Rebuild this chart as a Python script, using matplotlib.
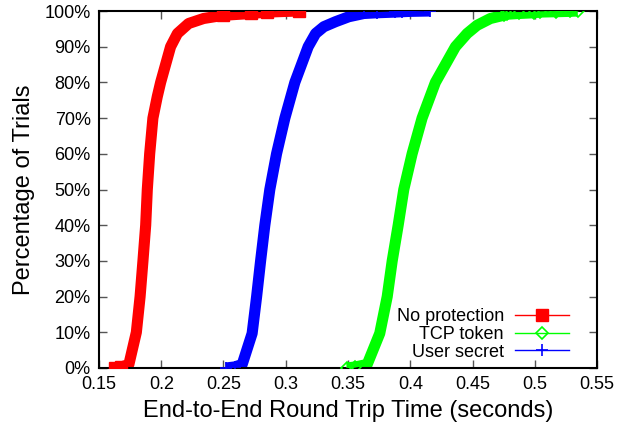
import numpy as np
import matplotlib
matplotlib.use("Agg")
import matplotlib.pyplot as plt
from matplotlib.lines import Line2D
from matplotlib.ticker import FuncFormatter

plt.rcParams['font.family'] = ['Liberation Sans', 'DejaVu Sans']

# percentiles (percentage of trials)
pct_np = [0, 0.3, 1, 10, 20, 30, 40, 50, 60, 70, 76, 80, 90, 93.7, 96.5, 97.9, 98.8, 99.3, 99.7, 100]
rtt_np = [0.163, 0.168, 0.174, 0.180, 0.183, 0.1853, 0.1875, 0.1888, 0.1907, 0.1933, 0.1968,
          0.1995, 0.2075, 0.213, 0.222, 0.234, 0.250, 0.272, 0.285, 0.3105]

pct_tcp = [0, 0.3, 1, 9.7, 20, 30, 40, 50, 60, 70, 80, 90, 93.7, 96, 97.9, 98.8, 99.1, 99.3, 99.5, 99.7, 99.8, 99.9, 100]
rtt_tcp = [0.349, 0.356, 0.3654, 0.3755, 0.3815, 0.3855, 0.3903, 0.3948, 0.4015, 0.4095, 0.4202,
           0.4363, 0.4457, 0.4537, 0.4644, 0.475, 0.478, 0.487, 0.499, 0.504, 0.517, 0.528, 0.5345]

pct_us = [0, 0.3, 1, 9.7, 20, 30, 40, 50, 60, 70, 80, 90, 93.7, 95.6, 97, 98.4, 99.3, 99.5, 99.7, 99.8, 99.9, 100]
rtt_us = [0.252, 0.259, 0.265, 0.273, 0.2766, 0.2798, 0.2832, 0.2872, 0.2926, 0.2993, 0.3073,
          0.318, 0.324, 0.3306, 0.340, 0.3507, 0.3627, 0.373, 0.388, 0.3935, 0.400, 0.416]

labels = ['No protection', 'TCP token', 'User secret']

fig = plt.figure(figsize=(6.19, 4.34), dpi=100)
ax = fig.add_axes([99/619, 1 - 368/434, (597 - 99)/619, (368 - 11)/434])

red = '#ff0000'
green = '#00ff00'
blue = '#0000ff'


def tails(pct):
    # markers only show up at the sparse ends of the curve
    return [i for i, p in enumerate(pct) if p <= 0.3 or p >= 98.8]


# thick band stands in for the dense run of markers
ax.plot(rtt_np, pct_np, color=red, lw=8, solid_capstyle='butt', zorder=2)
ax.plot(rtt_np, pct_np, color=red, lw=1, marker='s', ms=8, markevery=tails(pct_np), zorder=3)
ax.plot(rtt_tcp, pct_tcp, color=green, lw=8, solid_capstyle='butt', zorder=2)
ax.plot(rtt_tcp, pct_tcp, color=green, lw=1, marker='D', ms=6, mfc='none', mew=1.2,
        markevery=tails(pct_tcp), zorder=3)
ax.plot(rtt_us, pct_us, color=blue, lw=8, solid_capstyle='butt', zorder=2)
ax.plot(rtt_us, pct_us, color=blue, lw=1, marker='+', ms=9, mew=1.2,
        markevery=tails(pct_us), zorder=3)

ax.set_xlim(0.15, 0.55)
ax.set_ylim(0, 100)
ax.set_xticks(np.arange(0.15, 0.551, 0.05))
ax.set_yticks(np.arange(0, 101, 10))
ax.xaxis.set_major_formatter(FuncFormatter(lambda v, p: ('%.2f' % v).rstrip('0').rstrip('.')))
ax.yaxis.set_major_formatter(FuncFormatter(lambda v, p: '%d%%' % v))
ax.tick_params(direction='in', top=True, right=True, length=6, width=1, color='#555555',
               labelsize=13, pad=6)
for s in ax.spines.values():
    s.set_linewidth(1.5)

ax.set_xlabel('End-to-End Round Trip Time (seconds)', fontsize=17, labelpad=5)
ax.set_ylabel('Percentage of Trials', fontsize=17, labelpad=7)

handles = [Line2D([], [], color=red, lw=1, marker='s', ms=8),
           Line2D([], [], color=green, lw=1, marker='D', ms=6, mfc='none', mew=1.2),
           Line2D([], [], color=blue, lw=1, marker='+', ms=9, mew=1.2)]
ax.legend(handles, labels, loc='lower right', bbox_to_anchor=(0.958, 0.0),
          frameon=False, markerfirst=False, fontsize=13, handlelength=3.0,
          labelspacing=0.05, borderaxespad=0, handletextpad=0.6, numpoints=1)

fig.savefig('out.png', dpi=100)
